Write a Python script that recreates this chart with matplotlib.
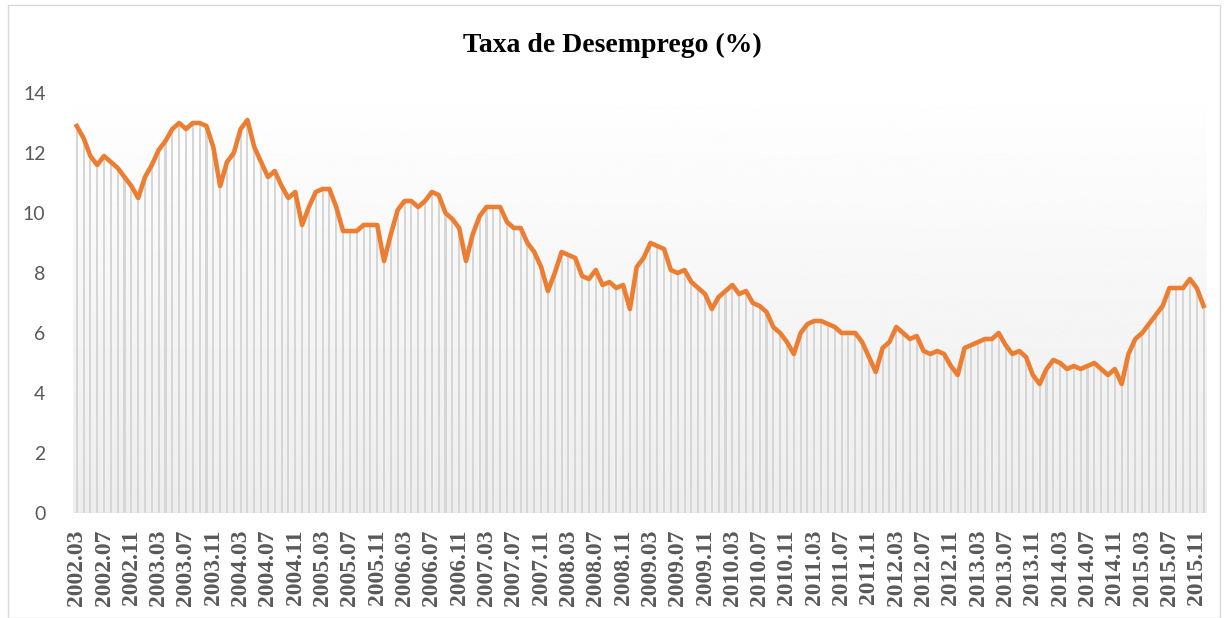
import numpy as np
import matplotlib
matplotlib.use("Agg")
import matplotlib.pyplot as plt
from matplotlib.patches import Rectangle

# taxa de desemprego mensal, 2002.03 - 2015.12
taxa = [
    12.9, 12.5, 11.9, 11.6, 11.9, 11.7, 11.5, 11.2, 10.9, 10.5,              # 2002
    11.2, 11.6, 12.1, 12.4, 12.8, 13.0, 12.8, 13.0, 13.0, 12.9, 12.2, 10.9,  # 2003
    11.7, 12.0, 12.8, 13.1, 12.2, 11.7, 11.2, 11.4, 10.9, 10.5, 10.7, 9.6,   # 2004
    10.2, 10.7, 10.8, 10.8, 10.2, 9.4, 9.4, 9.4, 9.6, 9.6, 9.6, 8.4,         # 2005
    9.3, 10.1, 10.4, 10.4, 10.2, 10.4, 10.7, 10.6, 10.0, 9.8, 9.5, 8.4,      # 2006
    9.3, 9.9, 10.2, 10.2, 10.2, 9.7, 9.5, 9.5, 9.0, 8.7, 8.2, 7.4,           # 2007
    8.0, 8.7, 8.6, 8.5, 7.9, 7.8, 8.1, 7.6, 7.7, 7.5, 7.6, 6.8,              # 2008
    8.2, 8.5, 9.0, 8.9, 8.8, 8.1, 8.0, 8.1, 7.7, 7.5, 7.3, 6.8,              # 2009
    7.2, 7.4, 7.6, 7.3, 7.4, 7.0, 6.9, 6.7, 6.2, 6.0, 5.7, 5.3,              # 2010
    6.0, 6.3, 6.4, 6.4, 6.3, 6.2, 6.0, 6.0, 6.0, 5.7, 5.2, 4.7,              # 2011
    5.5, 5.7, 6.2, 6.0, 5.8, 5.9, 5.4, 5.3, 5.4, 5.3, 4.9, 4.6,              # 2012
    5.5, 5.6, 5.7, 5.8, 5.8, 6.0, 5.6, 5.3, 5.4, 5.2, 4.6, 4.3,              # 2013
    4.8, 5.1, 5.0, 4.8, 4.9, 4.8, 4.9, 5.0, 4.8, 4.6, 4.8, 4.3,              # 2014
    5.3, 5.8, 6.0, 6.3, 6.6, 6.9, 7.5, 7.5, 7.5, 7.8, 7.5, 6.9,              # 2015
]

meses = []
for ano in range(2002, 2016):
    for m in range(1, 13):
        if ano == 2002 and m < 3:
            continue
        meses.append(f"{ano}.{m:02d}")

x = np.arange(len(taxa))

fig = plt.figure(figsize=(12.24, 6.18), dpi=100)
ax = fig.add_axes([73.3 / 1224, 105 / 618, (1207 - 73.3) / 1224, 432 / 618])

ymax = 14.4
# fundo em degrade
grad = np.linspace(1.0, 0.93, 256).reshape(-1, 1)
ax.imshow(grad, extent=(-0.5, len(taxa) - 0.5, 0, ymax), aspect="auto",
          cmap="gray", vmin=0, vmax=1, zorder=0, origin="upper")

ax.bar(x, taxa, width=0.3, color="#d6d6d6", zorder=1)
ax.plot(x, taxa, color="#ED7D31", lw=3.3, zorder=3, solid_joinstyle="round")

ax.set_xlim(-0.5, len(taxa) - 0.5)
ax.set_ylim(0, ymax)
ax.axhline(0, color="#d9d9d9", lw=1, zorder=2)

for s in ax.spines.values():
    s.set_visible(False)

ax.set_yticks(range(0, 15, 2))
ax.set_yticklabels([str(v) for v in range(0, 15, 2)], fontfamily="Lato",
                   fontsize=14, color="#595959")
ax.set_xticks(x[::4])
ax.set_xticklabels(meses[::4], rotation=90, fontfamily="Liberation Serif",
                   fontweight="bold", fontsize=17, color="#595959")
ax.tick_params(length=0)
ax.tick_params(axis="y", pad=20)
ax.tick_params(axis="x", pad=12)

fig.text(0.5, 1 - 45 / 618, "Taxa de Desemprego (%)", ha="center", va="center",
         fontfamily="Liberation Serif", fontweight="bold", fontsize=20)

fig.patches.append(Rectangle((8 / 1224, 0), 1212 / 1224, 613 / 618,
                             transform=fig.transFigure, fill=False,
                             edgecolor="#d9d9d9", lw=1))

fig.savefig("out.png", dpi=100)
